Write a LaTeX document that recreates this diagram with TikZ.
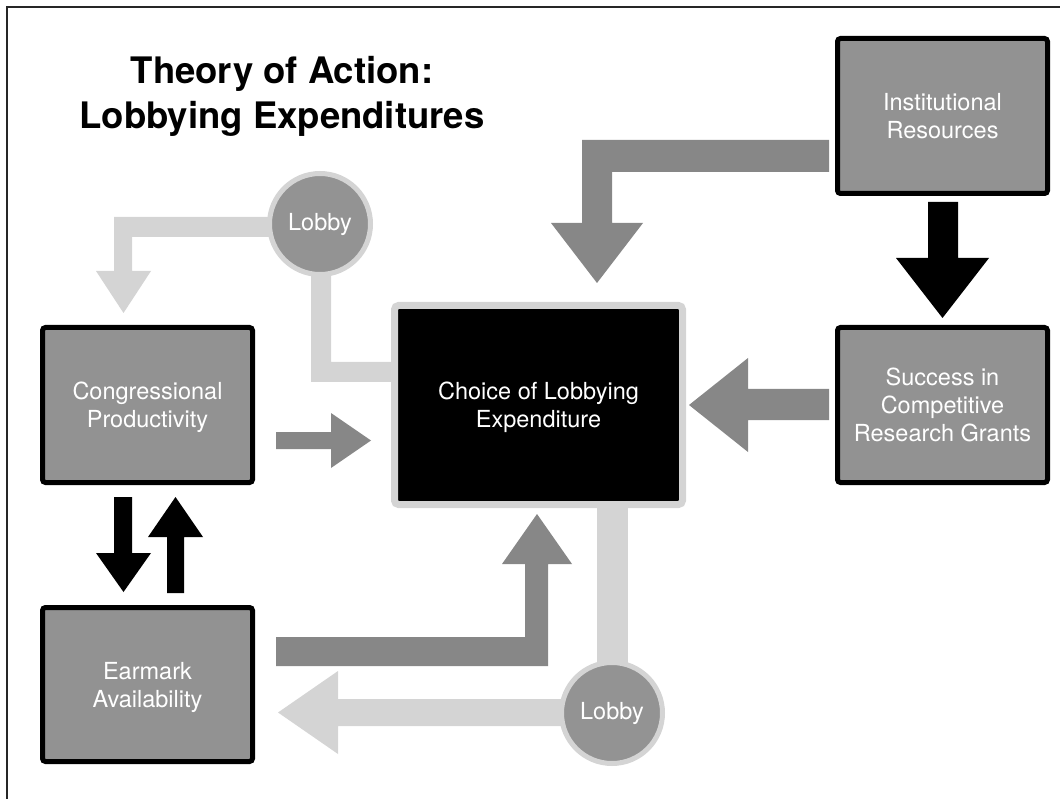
\documentclass[tikz,border=0pt]{standalone}
\usepackage{fontspec}
\setmainfont{TeX Gyre Heros}
\definecolor{boxgray}{HTML}{929292}
\definecolor{arrowgray}{HTML}{878787}
\definecolor{palegray}{HTML}{D4D4D4}
\definecolor{lobbygray}{HTML}{939393}
\begin{document}
\begin{tikzpicture}[x=1pt,y=-1pt,
  factor/.style={draw=black, line width=5pt, fill=boxgray, rounded corners=3pt,
    minimum width=210pt, minimum height=155pt, inner sep=0pt, align=center,
    text=white, text depth=0pt, font=\fontsize{23.5}{28}\selectfont},
  choicebox/.style={draw=palegray, line width=7pt, fill=black, rounded corners=4pt,
    minimum width=288pt, minimum height=199pt, inner sep=0pt, align=center,
    text=white, text depth=0pt, font=\fontsize{23.5}{28}\selectfont},
  lobbynode/.style={circle, draw=palegray, line width=5pt, fill=lobbygray,
    minimum size=101pt, inner sep=0pt, text=white, font=\fontsize{23.5}{28}\selectfont},
  palearrow/.style={fill=palegray},
  darkarrow/.style={fill=arrowgray},
  blackarrow/.style={fill=black},
  titletext/.style={align=center, font=\fontsize{36.5}{45}\bfseries\selectfont}
]
\useasboundingbox (0,0) rectangle (1060,799);

% frame
\draw[line width=1.5pt, black!85] (7,799) -- (7,7) -- (1060,7);

% title
\node[titletext] (title) at (282,96) {Theory of Action:\\Lobbying Expenditures};

% anchor points for the connectors
\coordinate (lobbyA) at (320,224);
\coordinate (lobbyB) at (612,713);

% pale connectors from the Lobby circles
\fill[palearrow] (lobbyA |- 0,217) -- (114,217) -- (114,271) -- (96,271) -- (123.5,313)
  -- (151,271) -- (132,271) -- (132,237) -- (lobbyA |- 0,237) -- cycle;
\fill[palearrow] (311,224) -- (311,382) -- (392,382) -- (392,362) -- (331,362) -- (331,224) -- cycle;
\fill[palearrow] (597,501) -- (628,501) -- (628,713) -- (597,713) -- cycle;
\fill[palearrow] (lobbyB |- 0,699) -- (338,699) -- (338,671) -- (278,712.5) -- (338,754)
  -- (338,726) -- (lobbyB |- 0,726) -- cycle;

% grey connectors into the choice
\fill[darkarrow] (829,140) -- (582,140) -- (582,223) -- (551,223) -- (597,283) -- (643,223)
  -- (612,223) -- (612,172) -- (829,172) -- cycle;
\fill[darkarrow] (829,389) -- (748,389) -- (748,358) -- (689,405) -- (748,452) -- (748,420)
  -- (829,420) -- cycle;
\fill[darkarrow] (276,432) -- (331,432) -- (331,413) -- (371,440.5) -- (331,468) -- (331,449)
  -- (276,449) -- cycle;
\fill[darkarrow] (276,637) -- (525,637) -- (525,564) -- (502,564) -- (537,514) -- (572,564)
  -- (548,564) -- (548,666) -- (276,666) -- cycle;

% black connectors
\fill[blackarrow] (928,202) -- (928,258) -- (896,258) -- (942.5,318) -- (989,258) -- (958,258)
  -- (958,202) -- cycle;
\fill[blackarrow] (114,497) -- (114,553) -- (96,553) -- (123.5,592) -- (151,553) -- (132,553)
  -- (132,497) -- cycle;
\fill[blackarrow] (167,593) -- (167,537) -- (148,537) -- (175.5,497) -- (203,537) -- (184,537)
  -- (184,593) -- cycle;

% factors
\node[factor] (congress) at (147.5,405) {Congressional\\Productivity};
\node[factor, minimum height=154pt] (earmark) at (147.5,684.5) {Earmark\\Availability};
\node[factor] (inst) at (942.5,116) {Institutional\\Resources};
\node[factor] (success) at (942.5,405) {Success in\\Competitive\\Research Grants};
\node[choicebox] (choice) at (538.5,405) {Choice of Lobbying\\Expenditure};

% lobby circles
\node[lobbynode] (lobbytop) at (lobbyA) {Lobby};
\node[lobbynode] (lobbybottom) at (lobbyB) {Lobby};
\end{tikzpicture}
\end{document}
